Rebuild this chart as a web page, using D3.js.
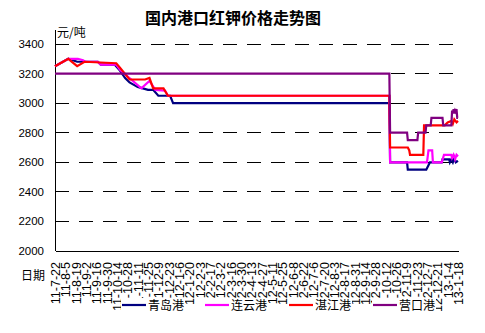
<!DOCTYPE html>
<html><head><meta charset="utf-8">
<script src="https://cdn.jsdelivr.net/npm/d3@7"></script>
<style>
body{margin:0;background:#fff;}
svg{display:block;}
text{font-family:"Liberation Sans",Arial,sans-serif;}
.cjk{font-family:"Noto Sans CJK SC",sans-serif;}
</style></head><body>
<svg id="c" width="485" height="333"></svg>
<script>
const title = "国内港口红钾价格走势图";
const yUnit = "元/吨";
const xName = "日期";
const seriesNames = ["青岛港","连云港","湛江港","营口港"];
const seriesColors = ["#000080","#FF00FF","#FF0000","#800080"];
const yTicks = [2000,2200,2400,2600,2800,3000,3200,3400];
const xTickLabels = ["11-7-22","11-8-5","11-8-19","11-9-2","11-9-16","11-9-30","11-10-14","11-10-28","11-11-11","11-11-25","11-12-9","11-12-23","12-1-6","12-1-20","12-2-3","12-2-17","12-3-2","12-3-16","12-3-30","12-4-13","12-4-27","12-5-11","12-5-25","12-6-8","12-6-22","12-7-6","12-7-20","12-8-3","12-8-17","12-8-31","12-9-14","12-9-28","12-10-12","12-10-26","12-11-9","12-11-23","12-12-7","12-12-21","13-1-4","13-1-18"];

const qingdao = [["2011-07-22",3250],["2011-08-09",3300],["2011-08-21",3280],["2011-09-18",3280],["2011-09-22",3260],["2011-10-11",3260],["2011-10-18",3220],["2011-10-25",3170],["2011-10-31",3140],["2011-11-07",3120],["2011-11-11",3110],["2011-11-25",3090],["2011-12-02",3090],["2011-12-09",3050],["2011-12-25",3050],["2011-12-29",3000],["2012-10-17",3000],["2012-10-18",2600],["2012-11-10",2600],["2012-11-11",2550],["2012-12-06",2550],["2012-12-08",2570],["2012-12-11",2600],["2012-12-27",2600],["2012-12-28",2620],["2013-01-06",2620],["2013-01-07",2600],["2013-01-09",2620],["2013-01-11",2600],["2013-01-13",2630],["2013-01-15",2600],["2013-01-18",2610]];
const lianyun = [["2011-07-22",3250],["2011-08-09",3300],["2011-08-22",3300],["2011-08-29",3290],["2011-09-01",3280],["2011-09-18",3280],["2011-09-22",3260],["2011-10-13",3260],["2011-10-18",3225],["2011-11-16",3100],["2011-11-27",3150],["2011-12-05",3090],["2011-12-18",3085],["2011-12-22",3050],["2012-10-17",3050],["2012-10-18",2600],["2012-12-07",2600],["2012-12-09",2680],["2012-12-14",2680],["2012-12-15",2600],["2012-12-27",2600],["2012-12-30",2650],["2013-01-09",2650],["2013-01-10",2630],["2013-01-12",2650],["2013-01-14",2620],["2013-01-16",2650],["2013-01-18",2640]];
const zhanjiang = [["2011-07-22",3250],["2011-08-09",3300],["2011-08-21",3250],["2011-08-31",3280],["2011-10-13",3270],["2011-10-18",3240],["2011-10-31",3160],["2011-11-21",3160],["2011-11-27",3170],["2011-12-02",3100],["2011-12-16",3100],["2011-12-22",3050],["2012-10-17",3050],["2012-10-18",2700],["2012-11-11",2700],["2012-11-13",2680],["2012-11-14",2650],["2012-12-02",2650],["2012-12-03",2850],["2012-12-31",2850],["2013-01-04",2870],["2013-01-09",2880],["2013-01-11",2860],["2013-01-13",2890],["2013-01-16",2870],["2013-01-18",2880]];
const yingkou = [["2011-07-22",3200],["2012-10-17",3200],["2012-10-18",2800],["2012-11-10",2800],["2012-11-11",2750],["2012-11-24",2750],["2012-11-25",2800],["2012-12-05",2800],["2012-12-06",2850],["2012-12-12",2850],["2012-12-13",2900],["2012-12-28",2900],["2012-12-29",2850],["2013-01-09",2850],["2013-01-10",2950],["2013-01-11",2930],["2013-01-12",2960],["2013-01-13",2930],["2013-01-14",2950],["2013-01-15",2940],["2013-01-16",2960],["2013-01-17",2900],["2013-01-18",2900]];
const allSeries = [qingdao, lianyun, zhanjiang, yingkou];

const parse = d3.timeParse("%Y-%m-%d");
const svg = d3.select("#c");
const L = 55, R = 458, T = 44, B = 251;
const x = d3.scaleTime().domain([parse("2011-07-22"), parse("2013-01-18")]).range([L, R]);
const y = d3.scaleLinear().domain([2000, 3400]).range([B, T]);

// title
svg.append("text").attr("class","cjk").attr("x",233).attr("y",24).attr("text-anchor","middle")
  .attr("font-size",16).attr("font-weight","bold").text(title);

// gridlines
svg.append("g").selectAll("line").data(yTicks.filter(v=>v>2000)).join("line")
  .attr("x1",L).attr("x2",R).attr("y1",d=>y(d)).attr("y2",d=>y(d))
  .attr("stroke","#000").attr("stroke-width",1).attr("stroke-dasharray","14,10")
  .attr("shape-rendering","crispEdges");

// y labels
svg.append("g").selectAll("text").data(yTicks).join("text")
  .attr("x",44).attr("y",d=>y(d)).attr("dy","0.35em").attr("text-anchor","end")
  .attr("font-size",11.5).text(d=>d);

// y axis line
svg.append("line").attr("x1",L).attr("x2",L).attr("y1",30).attr("y2",B).attr("stroke","#000").attr("shape-rendering","crispEdges");

// x axis
const tickDates = xTickLabels.map(s=>{const p=s.split("-");return new Date(2000+ +p[0], +p[1]-1, +p[2]);});
svg.append("defs").append("clipPath").attr("id","lab").append("rect").attr("x",0).attr("y",0).attr("width",485).attr("height",300);
const xa = svg.append("g").attr("transform",`translate(0,${B})`).attr("clip-path","url(#lab)")
  .call(d3.axisBottom(x).tickValues(tickDates).tickSize(-4).tickSizeOuter(0).tickFormat((d,i)=>xTickLabels[i]));
xa.select(".domain").attr("stroke","#000").attr("shape-rendering","crispEdges");
xa.selectAll(".tick line").attr("stroke","#000").attr("shape-rendering","crispEdges");
xa.selectAll(".tick text").attr("font-size",12.5).attr("font-family","Liberation Sans, Arial, sans-serif").attr("fill","#000")
  .attr("transform","rotate(-90)").attr("text-anchor","end").attr("x",-11).attr("y",0).attr("dy","0.35em");

// unit and x name
svg.append("text").attr("class","cjk").attr("x",57).attr("y",37).attr("font-size",12).text(yUnit);
svg.append("text").attr("class","cjk").attr("x",21).attr("y",280).attr("font-size",12).text(xName);

// lines
const line = d3.line().x(d=>x(parse(d[0]))).y(d=>y(d[1]));
svg.append("g").selectAll("path").data(allSeries).join("path")
  .attr("d",line).attr("fill","none").attr("stroke",(d,i)=>seriesColors[i]).attr("stroke-width",2.2)
  .attr("stroke-linejoin","miter");

// legend
const legX = [122,205,289,373];
const lg = svg.append("g").selectAll("g").data(seriesNames).join("g")
  .attr("transform",(d,i)=>`translate(${legX[i]},305)`);
lg.append("rect").attr("x",-1).attr("y",-7).attr("width",64).attr("height",14).attr("fill","#fff");
lg.append("line").attr("x1",0).attr("x2",24).attr("y1",0).attr("y2",0).attr("stroke",(d,i)=>seriesColors[i]).attr("stroke-width",2.2);
lg.append("text").attr("class","cjk").attr("x",26).attr("y",5).attr("font-size",12).text(d=>d);
</script></body></html>
